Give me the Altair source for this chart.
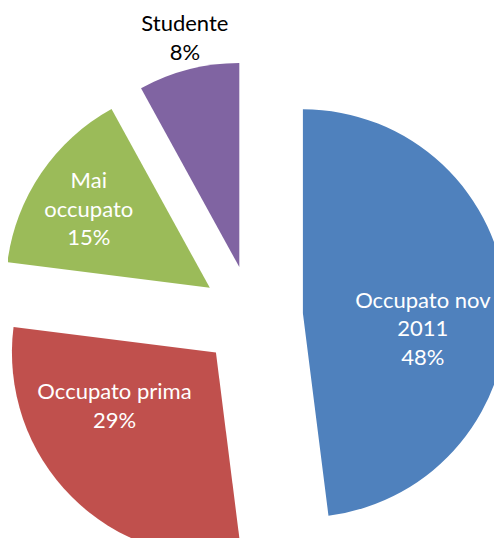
import altair as alt
import pandas as pd

categories = ["Occupato nov 2011", "Occupato prima", "Mai occupato", "Studente"]
label_text = ["Occupato nov\n2011", "Occupato prima", "Mai\noccupato", "Studente"]
shares = [48, 29, 15, 8]
colors = ["#4F81BD", "#C0504D", "#9BBB59", "#8064A2"]

# ---- layout (not data) ----
CX, CY = 244, 308.5    # pie centre (chart coords)
R = 204                # radius
D = 51                 # explode distance
LH = 28.5              # label line height
# label placement relative to each slice's vertex: distance, angle shift (deg) from mid-angle
LABEL_DIST = {"Occupato nov 2011": 121, "Occupato prima": 115, "Mai occupato": 144, "Studente": 235}
LABEL_SHIFT = {"Occupato nov 2011": 11.2, "Occupato prima": 16.9, "Mai occupato": -1.4, "Studente": 1.0}

df = pd.DataFrame({
    "cat": categories,
    "lab": [f"{t}\n{s}%" for t, s in zip(label_text, shares)],
    "share": shares,
    "order": list(range(len(categories))),
})
df["ld"] = df["cat"].map(LABEL_DIST)
df["ls"] = df["cat"].map(LABEL_SHIFT)

base = (
    alt.Chart(df)
    .transform_joinaggregate(total="sum(share)")
    .transform_window(cum="sum(share)", sort=[alt.SortField("order")])
    .transform_calculate(
        t1="datum.cum / datum.total * 2 * PI",
        t0="(datum.cum - datum.share) / datum.total * 2 * PI",
    )
    .transform_calculate(mid="(datum.t0 + datum.t1) / 2")
    .transform_calculate(
        vx=f"{CX} + {D} * sin(datum.mid)",
        vy=f"{CY} - {D} * cos(datum.mid)",
        la="datum.mid + datum.ls * PI / 180",
        nl="split(datum.lab, '\\n').length",
        tc="datum.share / datum.total < 0.1 ? 'black' : 'white'",
    )
    .transform_calculate(
        lx="datum.vx + datum.ld * sin(datum.la)",
        ly=f"datum.vy - datum.ld * cos(datum.la) - (datum.nl - 1) * {LH} / 2",
    )
)

arcs = base.mark_arc(radius=R).encode(
    x=alt.X("vx:Q", scale=None, axis=None),
    y=alt.Y("vy:Q", scale=None, axis=None),
    theta=alt.Theta("t0:Q", scale=None, stack=False),
    theta2=alt.Theta2("t1:Q"),
    color=alt.Color("cat:N", scale=alt.Scale(domain=categories, range=colors), legend=None),
)

labels = base.mark_text(
    font="Lato", fontSize=22, lineHeight=LH, lineBreak="\n",
    align="center", baseline="middle",
).encode(
    x=alt.X("lx:Q", scale=None, axis=None),
    y=alt.Y("ly:Q", scale=None, axis=None),
    text="lab:N",
    color=alt.Color("tc:N", scale=None),
)

chart = (
    alt.layer(arcs, labels)
    .properties(width=486, height=530, padding=0, autosize=alt.AutoSizeParams(type="none"))
    .configure_view(stroke=None)
)

chart.save("out.html", embed_options={"renderer": "svg", "actions": False})
